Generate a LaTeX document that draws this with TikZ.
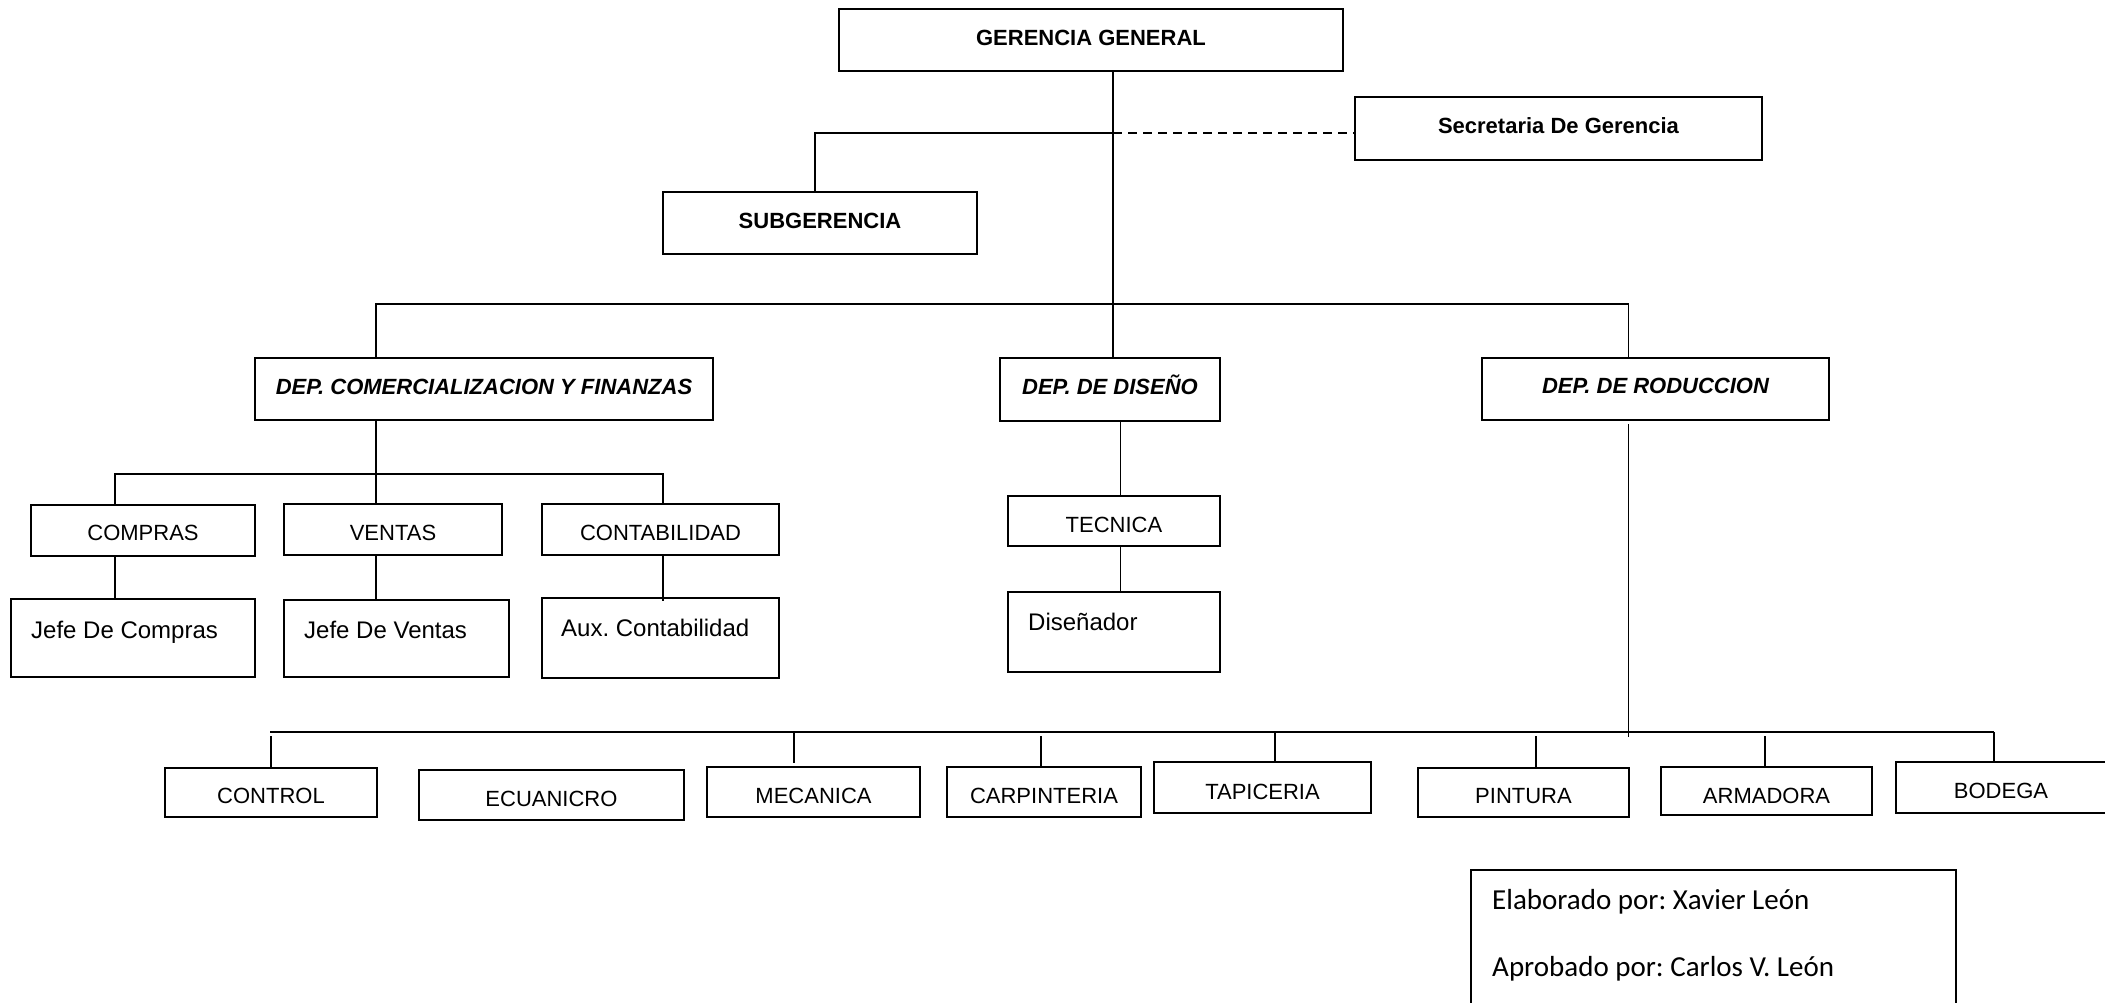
\documentclass[tikz,border=0pt]{standalone}
\usepackage{fontspec}
\setmainfont{Liberation Sans}
\newfontfamily\calibfont{Carlito}
\frenchspacing
\newcommand\obox[5]{\node[box, minimum width={(#4-#2)*1pt}, minimum height={(#5-#3)*1pt}] (#1) at ({(#2+#4)/2},{(#3+#5)/2}) {};}
\begin{document}
\begin{tikzpicture}[x=1pt,y=-1pt,
  box/.style={draw, line width=2pt, inner sep=0pt, outer sep=0pt},
  footbox/.style={draw, line width=1.3pt, inner sep=0pt, outer sep=0pt},
  conn/.style={line width=1.6pt},
  busline/.style={line width=2.5pt},
  dashconn/.style={line width=2pt, dash pattern=on 9pt off 6pt},
  tb/.style={font=\fontsize{22}{26}\selectfont\bfseries, anchor=base, inner sep=0pt},
  tbi/.style={font=\fontsize{22}{26}\selectfont\bfseries\itshape, anchor=base, inner sep=0pt},
  tr/.style={font=\fontsize{22}{26}\selectfont, anchor=base, inner sep=0pt},
  tj/.style={font=\fontsize{24}{28}\selectfont, anchor=base west, inner sep=0pt},
  tf/.style={font=\calibfont\fontsize{29}{34}\selectfont, anchor=base west, inner sep=0pt}]
\useasboundingbox (0,0) rectangle (2105,1002);
\fill[white] (0,0) rectangle (2105,1002);

% boxes
\obox{gg}{839}{9}{1343}{71}
\obox{sec}{1355}{97}{1762}{160}
\obox{sub}{663}{192}{977}{254}
\obox{dcom}{255}{358}{713}{420}
\obox{ddis}{1000}{358}{1220}{421}
\obox{dprod}{1482}{358}{1829}{420}
\obox{comp}{31}{505}{255}{556}
\obox{vent}{284}{504}{502}{555}
\obox{cont}{542}{504}{779}{555}
\obox{jcomp}{11}{599}{255}{677}
\obox{jvent}{284}{600}{509}{677}
\obox{aux}{542}{598}{779}{678}
\obox{tec}{1008}{496}{1220}{546}
\obox{dsn}{1008}{592}{1220}{672}
\obox{ctrl}{165}{768}{377}{817}
\obox{ecu}{419}{770}{684}{820}
\obox{mec}{707}{767}{920}{817}
\obox{carp}{947}{767}{1141}{817}
\obox{tap}{1154}{762}{1371}{813}
\obox{pint}{1418}{768}{1629}{817}
\obox{arm}{1661}{767}{1872}{815}
\obox{bod}{1896}{762}{2114}{813}
\node[footbox, minimum width=485pt, minimum height=150pt] (foot) at (1713.5,945) {};

% texts
\node[tb] at (1091,45) {GERENCIA GENERAL};
\node[tb] at (1558.5,133) {Secretaria De Gerencia};
\node[tb] at (820,228) {SUBGERENCIA};
\node[tbi] at (484,394) {DEP. COMERCIALIZACION Y FINANZAS};
\node[tbi] at (1110,394) {DEP. DE DISEÑO};
\node[tbi] at (1655.5,393) {DEP. DE RODUCCION};
\node[tr] at (143,540) {COMPRAS};
\node[tr] at (393,540) {VENTAS};
\node[tr] at (660.5,540) {CONTABILIDAD};
\node[tj] at (31,638) {Jefe De Compras};
\node[tj] at (304,638) {Jefe De Ventas};
\node[tj] at (561,636) {Aux. Contabilidad};
\node[tr] at (1114,532) {TECNICA};
\node[tj] at (1028,630) {Diseñador};
\node[tr] at (271,803) {CONTROL};
\node[tr] at (551.5,806.5) {ECUANICRO};
\node[tr] at (813.5,803) {MECANICA};
\node[tr] at (1044,803) {CARPINTERIA};
\node[tr] at (1262.5,799) {TAPICERIA};
\node[tr] at (1523.5,803) {PINTURA};
\node[tr] at (1766.5,803) {ARMADORA};
\node[tr] at (2001,798) {BODEGA};
\node[tf] at (1492,909) {Elaborado por: Xavier León};
\node[tf] at (1492,976) {Aprobado por: Carlos V. León};

% junction coordinates
\coordinate (gS) at ([xshift=22pt]gg.south);
\coordinate (dT) at ([xshift=3pt]ddis.north);
\coordinate (jsub) at (1113,133);
\coordinate (subT) at ([xshift=-5pt]sub.north);
\coordinate (jdep) at (1113,304);
\coordinate (comT) at ([xshift=-108pt]dcom.north);
\coordinate (comB) at ([xshift=-108pt]dcom.south);
\coordinate (prT) at ([xshift=-27pt]dprod.north);
\coordinate (cbus) at (376,474);
\coordinate (compT) at ([xshift=-28pt]comp.north);
\coordinate (compB) at ([xshift=-28pt]comp.south);
\coordinate (ventT) at ([xshift=-17pt]vent.north);
\coordinate (ventB) at ([xshift=-17pt]vent.south);
\coordinate (contT) at ([xshift=2.5pt]cont.north);
\coordinate (contB) at ([xshift=2.5pt]cont.south);
\coordinate (disB) at ([xshift=10.5pt]ddis.south);
\coordinate (tecB) at ([xshift=6.5pt]tec.south);
\coordinate (prB) at ([xshift=-27pt,yshift=-4pt]dprod.south);
\coordinate (prE) at (1628.5,737);
\coordinate (busL) at (270,732);
\coordinate (busR) at (1994,732);
\coordinate (tk1) at (271,736);
\coordinate (tk2) at (794,732);
\coordinate (tk3) at (1041,736);
\coordinate (tk4) at (1275,732);
\coordinate (tk5) at (1536,736);
\coordinate (tk6) at (1765,736);
\coordinate (tk7) at (1994,732);

% connectors
\draw[conn] (gS) -- (dT);
\draw[conn] (jsub) -| (subT);
\draw[dashconn] (jsub) -- (jsub -| sec.west);
\draw[conn] (comT) |- (jdep) -| (prT);
\draw[conn] (comB) -- (cbus);
\draw[conn] (compT) |- (cbus) -| (contT);
\draw[conn] (cbus) -- (ventT);
\draw[conn] (compB) -- (compB |- jcomp.north);
\draw[conn] (ventB) -- (ventB |- jvent.north);
\draw[conn] (contB) -- ([yshift=-3pt]contB |- aux.north);
\draw[conn] (disB) -- (disB |- tec.north);
\draw[conn] (tecB) -- (tecB |- dsn.north);
\draw[conn] (prB) -- (prE);
\draw[busline] (busL) -- (busR);
\draw[conn] (tk1) -- (tk1 |- ctrl.north);
\draw[conn] (tk2) -- (794,763);
\draw[conn] (tk3) -- (tk3 |- carp.north);
\draw[conn] (tk4) -- (tk4 |- tap.north);
\draw[conn] (tk5) -- (tk5 |- pint.north);
\draw[conn] (tk6) -- (tk6 |- arm.north);
\draw[conn] (tk7) -- (tk7 |- bod.north);
\end{tikzpicture}
\end{document}
